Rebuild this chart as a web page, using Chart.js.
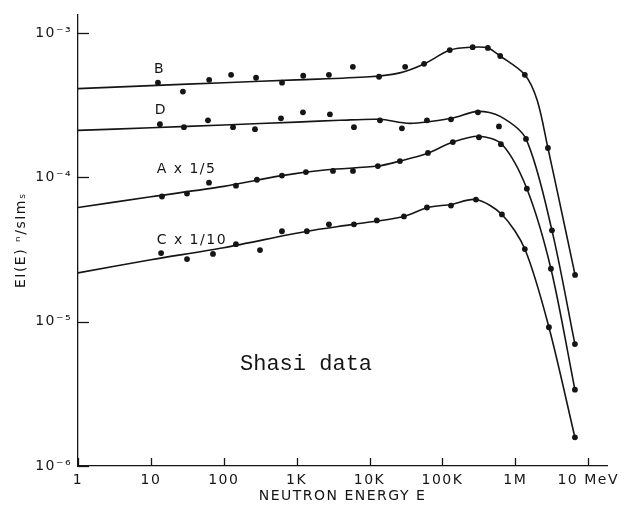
<!DOCTYPE html>
<html>
<head>
<meta charset="utf-8">
<script src="https://cdn.jsdelivr.net/npm/chart.js@4.4.1/dist/chart.umd.min.js"></script>
<style>
  html, body { margin: 0; padding: 0; background: #fff; }
  #wrap { width: 629px; height: 513px; }
</style>
</head>
<body>
<div id="wrap"><canvas id="chart" width="629" height="513"></canvas></div>
<script>
// Axis ticks (decades only)
const xTicks = [1, 10, 100, 1e3, 1e4, 1e5, 1e6, 1e7];
const xTickLabels = ['1', '10', '100', '1K', '10K', '100K', '1M', '10 MeV'];
const yTicks = [1e-6, 1e-5, 1e-4, 1e-3];
const yTickLabels = ['10⁻⁶', '10⁻⁵', '10⁻⁴', '10⁻³'];

// B - measured points and drawn curve
const bDotE = [12.5, 27.5, 63, 126, 277, 630, 1230, 2770, 5900, 13500, 30800, 5.6e4, 1.26e5, 2.6e5, 4.2e5, 6.2e5, 1.35e6, 2.8e6, 6.6e6];
const bDotV = [4.54e-4, 3.94e-4, 4.75e-4, 5.15e-4, 4.91e-4, 4.54e-4, 5.07e-4, 5.15e-4, 5.85e-4, 4.99e-4, 5.85e-4, 6.13e-4, 7.64e-4, 8.0e-4, 7.9e-4, 6.95e-4, 5.15e-4, 1.6e-4, 2.11e-5];
const bCurveE = [1, 10, 100, 1000, 1e4, 2.6e4, 5.6e4, 1.27e5, 2.6e5, 4.2e5, 6.2e5, 1.35e6, 2.0e6, 2.8e6, 3.72e6, 6.6e6];
const bCurveV = [4.13e-4, 4.33e-4, 4.54e-4, 4.75e-4, 4.99e-4, 5.31e-4, 6.12e-4, 7.64e-4, 8.0e-4, 7.9e-4, 6.95e-4, 5.15e-4, 3.41e-4, 1.6e-4, 8.24e-5, 2.11e-5];

// D
const dDotE = [13.3, 28.4, 60.7, 134, 268, 609, 1220, 2860, 6110, 13900, 27800, 61300, 1.31e5, 3.07e5, 5.96e5, 1.4e6, 3.18e6, 6.57e6];
const dDotV = [2.34e-4, 2.23e-4, 2.49e-4, 2.23e-4, 2.16e-4, 2.57e-4, 2.83e-4, 2.74e-4, 2.23e-4, 2.49e-4, 2.19e-4, 2.49e-4, 2.53e-4, 2.83e-4, 2.26e-4, 1.85e-4, 4.3e-5, 7.0e-6];
const dCurveE = [1, 10, 100, 1000, 3930, 13800, 35800, 1.31e5, 3.07e5, 6.2e5, 1.4e6, 3.18e6, 6.57e6];
const dCurveV = [2.12e-4, 2.21e-4, 2.31e-4, 2.42e-4, 2.49e-4, 2.53e-4, 2.37e-4, 2.57e-4, 2.87e-4, 2.65e-4, 1.85e-4, 4.3e-5, 7.0e-6];

// A x 1/5
const aDotE = [14.2, 31.3, 62.7, 147, 285, 628, 1340, 3150, 5920, 13000, 26100, 63200, 1.39e5, 3.17e5, 6.34e5, 1.44e6, 3.08e6, 6.57e6];
const aDotV = [7.38e-5, 7.73e-5, 9.2e-5, 8.77e-5, 9.64e-5, 1.03e-4, 1.09e-4, 1.11e-4, 1.11e-4, 1.20e-4, 1.30e-4, 1.48e-4, 1.76e-4, 1.90e-4, 1.70e-4, 8.36e-5, 2.33e-5, 3.38e-6];
const aCurveE = [1, 10, 100, 628, 2600, 13000, 26100, 60000, 1.39e5, 3.17e5, 6.55e5, 1.44e6, 3.08e6, 6.57e6];
const aCurveV = [6.19e-5, 7.35e-5, 8.67e-5, 1.03e-4, 1.13e-4, 1.20e-4, 1.30e-4, 1.46e-4, 1.76e-4, 1.93e-4, 1.70e-4, 8.36e-5, 2.33e-5, 3.38e-6];

// C x 1/10
const cDotE = [13.8, 31.3, 71.1, 147, 314, 628, 1380, 2770, 6110, 12600, 29600, 61300, 1.31e5, 2.88e5, 6.55e5, 1.35e6, 2.89e6, 6.57e6];
const cDotV = [2.99e-5, 2.72e-5, 2.95e-5, 3.45e-5, 3.14e-5, 4.24e-5, 4.24e-5, 4.73e-5, 4.73e-5, 5.04e-5, 5.37e-5, 6.19e-5, 6.39e-5, 7.03e-5, 5.54e-5, 3.19e-5, 9.16e-6, 1.58e-6];
const cCurveE = [1, 10, 100, 1380, 5900, 29600, 63000, 1.31e5, 2.88e5, 6.55e5, 1.35e6, 2.89e6, 6.57e6];
const cCurveV = [2.18e-5, 2.69e-5, 3.26e-5, 4.24e-5, 4.73e-5, 5.37e-5, 6.19e-5, 6.5e-5, 7.03e-5, 5.54e-5, 3.19e-5, 9.16e-6, 1.58e-6];

// curve names, placed in data coordinates
const curveNames = ['B', 'D', 'A x 1/5', 'C x 1/10'];
const nameE = [11, 11.3, 12, 12];
const nameV = [5.66e-4, 2.92e-4, 1.13e-4, 3.68e-5];

const INK = '#151515';

function pts(xs, ys) {
    return xs.map((x, i) => ({ x: x, y: ys[i] }));
}

function curveSet(xs, ys) {
    return {
        type: 'line',
        data: pts(xs, ys),
        borderColor: INK,
        borderWidth: 1.6,
        pointRadius: 0,
        tension: 0.3,
        fill: false
    };
}

function dotSet(xs, ys) {
    return {
        type: 'scatter',
        data: pts(xs, ys),
        showLine: false,
        pointRadius: 2.9,
        pointBackgroundColor: INK,
        pointBorderColor: INK,
        pointBorderWidth: 0
    };
}

// short tick marks pointing into the plot, plus the text annotations
const decorPlugin = {
    id: 'decor',
    beforeDraw(chart) {
        chart.ctx.letterSpacing = '1.5px';
    },
    afterDraw(chart) {
        const ctx = chart.ctx;
        const xs = chart.scales.x;
        const ys = chart.scales.y;
        const area = chart.chartArea;
        ctx.save();
        ctx.strokeStyle = INK;
        ctx.lineWidth = 1.3;
        xTicks.forEach(v => {
            const px = Math.round(xs.getPixelForValue(v)) + 0.5;
            ctx.beginPath();
            ctx.moveTo(px, area.bottom);
            ctx.lineTo(px, area.bottom - 8);
            ctx.stroke();
        });
        yTicks.forEach(v => {
            const py = Math.round(ys.getPixelForValue(v)) + 0.5;
            ctx.beginPath();
            ctx.moveTo(area.left, py);
            ctx.lineTo(area.left + 11, py);
            ctx.stroke();
        });

        ctx.fillStyle = INK;
        ctx.font = '14px "DejaVu Sans"';
        ctx.textAlign = 'left';
        ctx.textBaseline = 'middle';
        curveNames.forEach((name, i) => {
            ctx.fillText(name, xs.getPixelForValue(nameE[i]), ys.getPixelForValue(nameV[i]));
        });

        ctx.letterSpacing = '0px';
        ctx.font = '22px "Liberation Mono"';
        ctx.fillText('Shasi data', xs.getPixelForValue(167), ys.getPixelForValue(5.1e-6));
        ctx.restore();
    }
};

const chart = new Chart(document.getElementById('chart'), {
    data: {
        datasets: [
            curveSet(bCurveE, bCurveV), dotSet(bDotE, bDotV),
            curveSet(dCurveE, dCurveV), dotSet(dDotE, dDotV),
            curveSet(aCurveE, aCurveV), dotSet(aDotE, aDotV),
            curveSet(cCurveE, cCurveV), dotSet(cDotE, cDotV)
        ]
    },
    options: {
        responsive: false,
        devicePixelRatio: 1,
        animation: false,
        layout: { padding: { top: 10, right: 22, left: 0, bottom: 0 } },
        plugins: {
            legend: { display: false },
            tooltip: { enabled: false }
        },
        scales: {
            x: {
                type: 'logarithmic',
                min: 1,
                max: 1.81e7,
                afterBuildTicks: scale => { scale.ticks = xTicks.map(v => ({ value: v })); },
                afterFit: scale => { scale.height = 47; },
                grid: { display: false, drawTicks: false },
                border: { display: true, color: INK, width: 1.3 },
                ticks: {
                    autoSkip: false,
                    maxRotation: 0,
                    padding: 6,
                    color: INK,
                    font: { family: 'DejaVu Sans', size: 14 },
                    callback: (v, i) => xTickLabels[i]
                },
                title: {
                    display: true,
                    text: 'NEUTRON ENERGY E',
                    color: INK,
                    font: { family: 'DejaVu Sans', size: 14 },
                    padding: { top: 0, bottom: 8 }
                }
            },
            y: {
                type: 'logarithmic',
                min: 1e-6,
                max: 1.35e-3,
                afterBuildTicks: scale => { scale.ticks = yTicks.map(v => ({ value: v })); },
                afterFit: scale => { scale.width = 78; },
                grid: { display: false, drawTicks: false },
                border: { display: true, color: INK, width: 1.3 },
                ticks: {
                    autoSkip: false,
                    padding: 6,
                    color: INK,
                    font: { family: 'DejaVu Sans', size: 14 },
                    callback: (v, i) => yTickLabels[i]
                },
                title: {
                    display: true,
                    text: 'EI(E) ⁿ/sIm\u209B',
                    color: INK,
                    font: { family: 'DejaVu Sans', size: 14 },
                    padding: { top: 13, bottom: 0 }
                }
            }
        }
    },
    plugins: [decorPlugin]
});
</script>
</body>
</html>
